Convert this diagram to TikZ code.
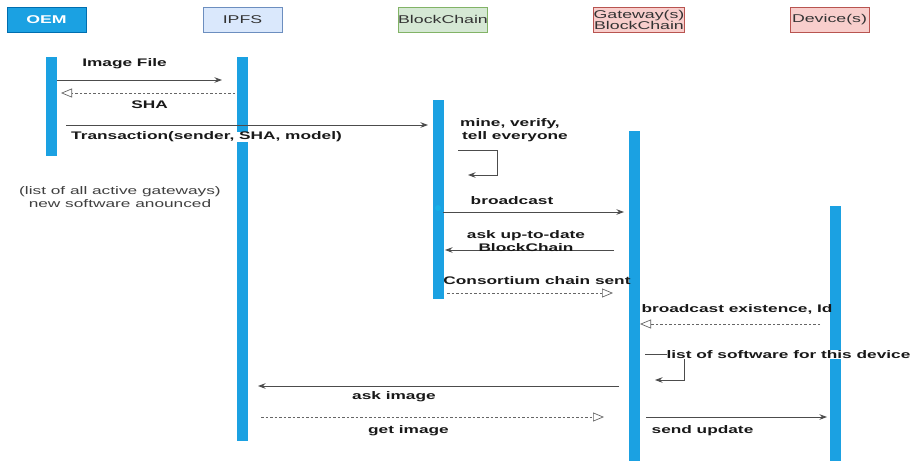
\documentclass[tikz,border=0pt]{standalone}
\usepackage{fontspec}
\setmainfont{Liberation Sans}
\usepackage{graphicx}
\usetikzlibrary{arrows.meta}
\definecolor{barblue}{RGB}{27,161,226}
\definecolor{oemdraw}{RGB}{0,110,175}
\definecolor{ipfsfill}{RGB}{218,232,252}
\definecolor{ipfsdraw}{RGB}{108,142,191}
\definecolor{bcfill}{RGB}{213,232,212}
\definecolor{bcdraw}{RGB}{130,179,102}
\definecolor{redfill}{RGB}{248,206,204}
\definecolor{reddraw}{RGB}{184,84,80}
\newcommand\sx[1]{\scalebox{1.57}[1]{#1}}
\begin{document}
\begin{tikzpicture}[x=1pt,y=-1pt,
  every node/.style={font=\fontsize{11}{13}\selectfont},
  hdr/.style={draw, rectangle, minimum height=25, inner sep=0pt, text=black!80, line width=0.8pt, align=center, font=\fontsize{11.3}{12}\selectfont},
  bar/.style={rectangle, fill=barblue, inner sep=0pt, minimum width=10.5},
  msg/.style={draw=black!70, line width=0.8pt, -{Stealth[length=7.5pt,width=5.5pt]}},
  ret/.style={draw=black!60, line width=0.7pt, dash pattern=on 2.5pt off 2pt, -{Triangle[open,length=11pt,width=9pt]}},
  lbl/.style={fill=white, inner sep=0pt, font=\bfseries\fontsize{11}{13}\selectfont, text=black!90},
]
\useasboundingbox (0,0) rectangle (913,461);
\fill[white] (0,0) rectangle (913,461);

% headers
\node[hdr, fill=barblue, draw=oemdraw, text=white, minimum width=79, font=\bfseries\fontsize{11.3}{12}\selectfont] (oem) at (46.5,19.5) {\sx{OEM}};
\node[hdr, fill=ipfsfill, draw=ipfsdraw, minimum width=79] (ipfs) at (242.5,19.5) {\sx{IPFS}};
\node[hdr, fill=bcfill, draw=bcdraw, minimum width=88] (bc) at (443,19.5) {\sx{BlockChain}};
\node[hdr, fill=redfill, draw=reddraw, minimum width=90] (gw) at (639,19.5) {\sx{Gateway(s)}\\[-1pt]\sx{BlockChain}};
\node[hdr, fill=redfill, draw=reddraw, minimum width=79] (dev) at (829.5,19.5) {\sx{Device(s)}};

% activation bars
\node[bar, minimum height=99] (oembar) at (51.5,106.5) {};
\node[bar, minimum height=384] (ipfsbar) at (242.5,249) {};
\node[bar, minimum height=199] (bcbar) at (438.5,199.5) {};
\node[bar, minimum height=330] (gwbar) at (634.5,296) {};
\node[bar, minimum height=255] (devbar) at (835.5,333.5) {};
\fill[barblue!85!cyan] (438,208) circle (3);

% coordinates
\coordinate (a1) at (57,80);   \coordinate (b1) at (222,80);
\coordinate (a2) at (235,93);  \coordinate (b2) at (61,93);
\coordinate (a3) at (66,125);  \coordinate (b3) at (428,125);
\coordinate (l1) at (458,150); \coordinate (l2) at (497,150); \coordinate (l3) at (497,175); \coordinate (l4) at (468,175);
\coordinate (a5) at (443,212); \coordinate (b5) at (624,212);
\coordinate (a6) at (614,250); \coordinate (b6) at (445,250);
\coordinate (a7) at (447,293); \coordinate (b7) at (613,293);
\coordinate (a8) at (820,324); \coordinate (b8) at (640,324);
\coordinate (m1) at (645,354); \coordinate (m2) at (684,354); \coordinate (m3) at (684,380); \coordinate (m4) at (655,380);
\coordinate (a10) at (619,386); \coordinate (b10) at (258,386);
\coordinate (a11) at (261,417); \coordinate (b11) at (604,417);
\coordinate (a12) at (646,417); \coordinate (b12) at (827,417);

% messages
\draw[msg] (a1) -- (b1);
\draw[ret] (a2) -- (b2);
\draw[msg] (a3) -- (b3);
\draw[msg] (l1) -- (l2) -- (l3) -- (l4);
\draw[msg] (a5) -- (b5);
\draw[msg] (a6) -- (b6);
\draw[ret] (a7) -- (b7);
\draw[ret] (a8) -- (b8);
\draw[msg] (m1) -- (m2) -- (m3) -- (m4);
\draw[msg] (a10) -- (b10);
\draw[ret] (a11) -- (b11);
\draw[msg] (a12) -- (b12);

% labels
\node[lbl] (t1) at (124.5,63.5) {\sx{Image File}};
\node[lbl] (t2) at (149.5,104.5) {\sx{SHA}};
\node[lbl] (t3) at (206.5,137) {\sx{Transaction(sender, SHA, model)}};
\node[lbl, anchor=west, align=left, fill=none] (t4) at (460,130.5) {\sx{mine, verify,}\\\hspace*{2pt}\sx{tell everyone}};
\node[lbl] (t5) at (512,200.5) {\sx{broadcast}};
\node[lbl, align=center, fill=none, font=\bfseries\fontsize{11}{12.5}\selectfont] (t6) at (526,241) {\sx{ask up-to-date}\\\sx{BlockChain}};
\node[lbl, fill=none] (t7) at (537,281) {\sx{Consortium chain sent}};
\node[lbl, fill=none] (t8) at (737,309) {\sx{broadcast existence, Id}};
\node[lbl] (t9) at (788.5,354.5) {\sx{list of software for this device}};
\node[lbl] (t10) at (394,396.5) {\sx{ask image}};
\node[lbl] (t11) at (408.5,430.5) {\sx{get image}};
\node[lbl] (t12) at (702.5,430.5) {\sx{send update}};
\node[align=center, text=black!75, font=\fontsize{11}{13}\selectfont] (note) at (120,197.5) {\sx{(list of all active gateways)}\\\sx{new software anounced}};
\end{tikzpicture}
\end{document}
